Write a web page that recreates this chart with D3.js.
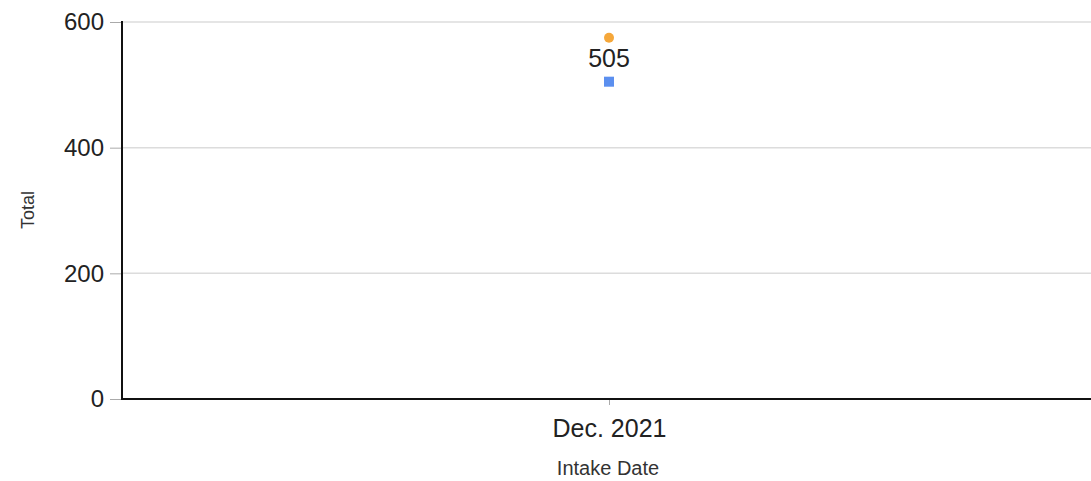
<!DOCTYPE html>
<html><head><meta charset="utf-8">
<script src="https://cdn.jsdelivr.net/npm/d3@7"></script>
<style>body{margin:0;background:#fff}svg{display:block;font-family:Arial,"Liberation Sans",sans-serif}</style>
</head><body><svg id="c" width="1091" height="481"></svg>
<script>
const categories = ["Dec. 2021"];
const seriesA = [505];   // blue squares (labelled)
const seriesB = [575];   // orange circles
const yTicks = [0, 200, 400, 600];

(function () {
const svg = d3.select("#c");
const mLeft = 122, mRight = 1096, mTop = 22, mBottom = 399;
const ff = "Arial, 'Liberation Sans', sans-serif";
const x = d3.scalePoint().domain(categories).range([mLeft, mRight]).padding(0.5);
const y = d3.scaleLinear().domain([0, 600]).range([mBottom, mTop]);

// gridlines
svg.append("g").selectAll("line").data(yTicks.filter(d => d > 0)).join("line")
  .attr("x1", mLeft).attr("x2", 1091).attr("y1", d => y(d)).attr("y2", d => y(d))
  .attr("stroke", "#dcdcdc").attr("stroke-width", 1.5);

// y axis
const ya = svg.append("g").attr("transform", `translate(${mLeft},0)`)
  .call(d3.axisLeft(y).tickValues(yTicks).tickSize(12).tickPadding(6));
ya.select(".domain").remove();
ya.selectAll(".tick line").attr("stroke", "#aaa");
ya.selectAll(".tick text").attr("font-size", 24).attr("fill", "#222").attr("font-family", ff);
svg.append("line").attr("x1", mLeft).attr("x2", mLeft).attr("y1", mTop - 1).attr("y2", mBottom + 1)
  .attr("stroke", "#111").attr("stroke-width", 2);

// x axis
const xa = svg.append("g").attr("transform", `translate(0,${mBottom})`)
  .call(d3.axisBottom(x).tickSize(6).tickPadding(14));
xa.select(".domain").remove();
xa.selectAll(".tick line").attr("stroke", "#aaa");
xa.selectAll(".tick text").attr("font-size", 25).attr("fill", "#222").attr("font-family", ff);
svg.append("line").attr("x1", mLeft - 1).attr("x2", 1091).attr("y1", mBottom).attr("y2", mBottom)
  .attr("stroke", "#111").attr("stroke-width", 2);

// axis titles
svg.append("text").attr("x", 608).attr("y", 475).attr("text-anchor", "middle")
  .attr("font-size", 20).attr("fill", "#333").text("Intake Date");
svg.append("text").attr("transform", "translate(34,210) rotate(-90)").attr("text-anchor", "middle")
  .attr("font-size", 18).attr("fill", "#333").text("Total");

// orange circles
svg.append("g").selectAll("circle").data(seriesB).join("circle")
  .attr("cx", (d, i) => x(categories[i])).attr("cy", d => y(d)).attr("r", 5)
  .attr("fill", "#f5a73a");

// blue squares
svg.append("g").selectAll("rect").data(seriesA).join("rect")
  .attr("x", (d, i) => x(categories[i]) - 5).attr("y", d => y(d) - 5)
  .attr("width", 10).attr("height", 10).attr("fill", "#5b8fef");

// labels
svg.append("g").selectAll("text").data(seriesA).join("text")
  .attr("x", (d, i) => x(categories[i])).attr("y", d => y(d) - 15)
  .attr("text-anchor", "middle").attr("font-size", 25).attr("fill", "#222").text(d => d);
})();
</script></body></html>
